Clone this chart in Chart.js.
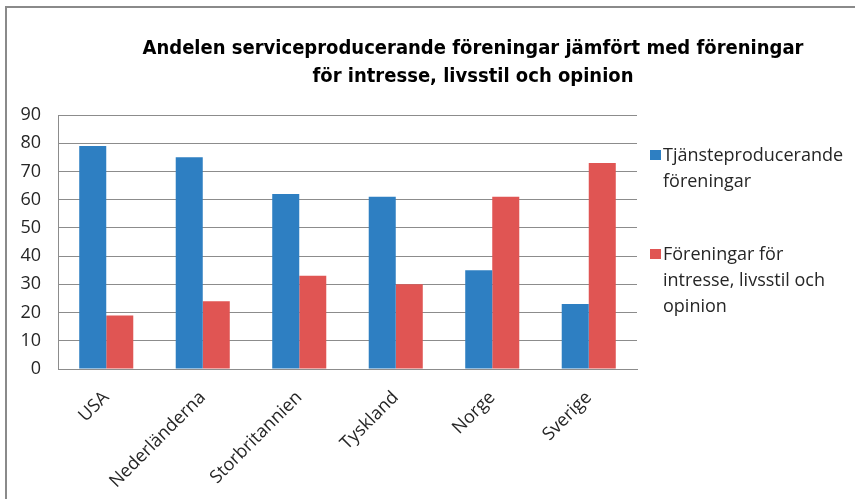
<!DOCTYPE html>
<html>
<head>
<meta charset="utf-8">
<script src="https://cdn.jsdelivr.net/npm/chart.js@4/dist/chart.umd.min.js"></script>
<style>
    body { margin: 0; background: #fff; }
    #ram {
        position: absolute; left: 5px; top: 6px; width: 850px; height: 493px;
        border-left: 2px solid #8a8a8a; border-top: 2px solid #8a8a8a;
        box-sizing: border-box;
    }
    #rubrik {
        position: absolute; left: 73px; width: 800px; top: 33px;
        text-align: center; font-family: "DejaVu Sans Condensed", sans-serif;
        font-weight: bold; font-size: 20px; line-height: 28px; color: #000;
    }
    #yta { position: absolute; left: 0; top: 0; width: 855px; height: 499px; }
    #forklaring {
        position: absolute; left: 650px; top: 0;
        font-family: "Open Sans", sans-serif; font-size: 18px; line-height: 26px; color: #262626;
    }
    .post { position: absolute; left: 0; white-space: nowrap; }
    .ruta { position: absolute; left: 0; top: 9px; width: 11px; height: 10px; }
    .text { position: absolute; left: 13px; top: 0; }
</style>
</head>
<body>
<div id="ram"></div>
<div id="yta"><canvas id="diagram"></canvas></div>
<div id="rubrik">Andelen serviceproducerande föreningar jämfört med föreningar<br>för intresse, livsstil och opinion</div>
<div id="forklaring"></div>
<script>
const lander = ["USA", "Nederländerna", "Storbritannien", "Tyskland", "Norge", "Sverige"];
const tjansteproducerande = [79, 75, 62, 61, 35, 23];
const intresseOpinion = [19, 24, 33, 30, 61, 73];
const serieNamn = [
    ["Tjänsteproducerande", "föreningar"],
    ["Föreningar  för", "intresse, livsstil och", "opinion"],
];
const yTicks = [0, 10, 20, 30, 40, 50, 60, 70, 80, 90];

const colorBla = "#2e7fc2";
const colorRod = "#e05553";
const colorGrid = "#8c8c8c";
const textFarg = "#262626";
const typsnitt = "'Open Sans', sans-serif";

new Chart(document.getElementById("diagram"), {
    type: "bar",
    data: {
        labels: lander,
        datasets: [
            {
                label: serieNamn[0].join(" "),
                data: tjansteproducerande,
                backgroundColor: colorBla,
                borderWidth: 0,
            },
            {
                label: serieNamn[1].join(" "),
                data: intresseOpinion,
                backgroundColor: colorRod,
                borderWidth: 0,
            },
        ],
    },
    options: {
        responsive: true,
        maintainAspectRatio: false,
        animation: false,
        categoryPercentage: 0.56,
        barPercentage: 1.0,
        layout: { padding: { top: 115, right: 218, left: 0, bottom: 0 } },
        scales: {
            x: {
                grid: { display: false, drawTicks: false },
                border: { color: colorGrid },
                afterFit: function (scale) { scale.height = 130; },
                ticks: {
                    font: { family: typsnitt, size: 18 },
                    color: textFarg,
                    minRotation: 45,
                    maxRotation: 45,
                    padding: 18,
                },
            },
            y: {
                min: 0,
                max: 90,
                afterFit: function (scale) { scale.width = 58; },
                afterBuildTicks: function (scale) {
                    scale.ticks = yTicks.map((v) => ({ value: v }));
                },
                grid: { color: colorGrid, drawTicks: false },
                border: { color: colorGrid },
                ticks: {
                    font: { family: typsnitt, size: 18 },
                    color: textFarg,
                    padding: 17,
                },
            },
        },
        plugins: {
            legend: { display: false },
            tooltip: { enabled: false },
        },
    },
});

// förklaring byggd från serierna
const forklaring = document.getElementById("forklaring");
const farger = [colorBla, colorRod];
const toppar = [141, 240];
serieNamn.forEach((rader, i) => {
    const post = document.createElement("div");
    post.className = "post";
    post.style.top = toppar[i] + "px";
    const ruta = document.createElement("div");
    ruta.className = "ruta";
    ruta.style.background = farger[i];
    const text = document.createElement("div");
    text.className = "text";
    text.innerHTML = rader.join("<br>");
    post.appendChild(ruta);
    post.appendChild(text);
    forklaring.appendChild(post);
});
</script>
</body>
</html>
